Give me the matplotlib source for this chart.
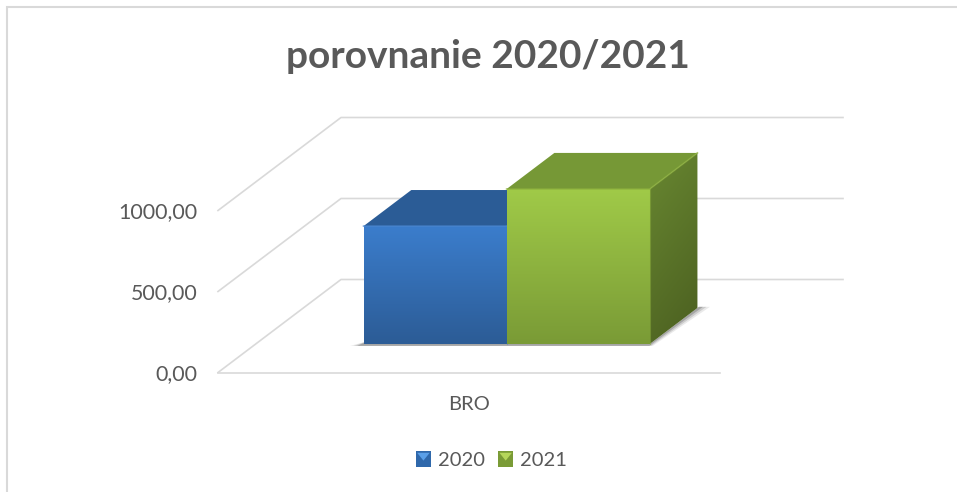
import numpy as np
from matplotlib import pyplot as plt
from matplotlib.colors import LinearSegmentedColormap
from matplotlib.legend_handler import HandlerPatch
from matplotlib.patches import Patch, Polygon, Rectangle

plt.rcParams['font.family'] = ['Lato', 'DejaVu Sans']

categories = ['BRO']
series_names = ['2020', '2021']
values = [728, 957]
y_ticks = [0, 500, 1000]
y_tick_labels = ['0,00', '500,00', '1000,00']

W, H = 957, 492
TEXT = '#595959'
GRID = '#d9d9d9'
# front, top, side colours (start, end of gradient), bevel highlight
styles = [
    {'front': ('#3b7dcc', '#2c5c96'), 'top': '#2b5c96', 'side': ('#24497a', '#1d3b63'), 'edge': '#4a86cf'},
    {'front': ('#a0ca48', '#7a9b36'), 'top': '#769836', 'side': ('#688731', '#4b5f20'), 'edge': '#8db03e'},
]

fig = plt.figure(figsize=(W / 100, H / 100), dpi=100)
ax = fig.add_axes([218 / W, 1 - 372.5 / H, 625 / W, 272.5 / H])
ax.set_xlim(0, 625 / 502)
ax.set_ylim(0, 272.5 / 81 * 500)
for s in ax.spines.values():
    s.set_visible(False)

# chart frame, open on the right and at the bottom of the picture
fig.add_artist(Rectangle((7 / W, -0.1), 1.1, 1 - 7 / H + 0.1, transform=fig.transFigure,
                         fill=False, ec=GRID, lw=1.5))

# oblique depth of the 3D box, in data units
DX = 123 / 502
DY = 93 / 81 * 500
F0, F1 = 0.306, 0.694
BAR_W = 0.285


def proj(x, v, f):
    return x + f * DX, v + f * DY


def gradient(verts, c0, c1, angle=90, zorder=3):
    # fill a polygon with a linear gradient, clipped to it
    verts = np.array(verts)
    cmap = LinearSegmentedColormap.from_list('g', [c1, c0])
    if angle == 90:
        img = np.linspace(0, 1, 64).reshape(-1, 1)
    else:
        yy, xx = np.mgrid[0:1:64j, 0:1:64j]
        img = (yy * 0.75 + (1 - xx) * 0.25)
    im = ax.imshow(img, origin='lower', aspect='auto', cmap=cmap, vmin=0, vmax=1,
                   extent=(verts[:, 0].min(), verts[:, 0].max(), verts[:, 1].min(), verts[:, 1].max()),
                   zorder=zorder, interpolation='bilinear')
    poly = Polygon(verts, closed=True, transform=ax.transData, fc='none', ec='none')
    ax.add_patch(poly)
    im.set_clip_path(poly)


xlim, ylim = ax.get_xlim(), ax.get_ylim()

# walls
for v in y_ticks:
    pts = [proj(0, v, 0), proj(0, v, 1), proj(1, v, 1)]
    ax.plot(*zip(*pts), color=GRID, lw=1.2, zorder=1, clip_on=False)
ax.plot(*zip(proj(0, 0, 0), proj(1, 0, 0)), color=GRID, lw=1.2, zorder=1, clip_on=False)

# soft shadow on the floor
x_left = 0.5 - BAR_W
x_right = 0.5 + BAR_W
for grow, alpha in [(0.022, 0.12), (0.015, 0.2), (0.008, 0.32)]:
    shadow = [proj(x_left - grow, 0, F0 - 0.02), proj(x_right + grow / 2, 0, F0 - 0.02),
              proj(x_right + grow, 0, F1 + 0.012), proj(x_right, 0, F1 + 0.012),
              proj(x_right, 0, F0), proj(x_left, 0, F0 + 0.03)]
    ax.add_patch(Polygon(shadow, closed=True, fc='#555555', ec='none', alpha=alpha, zorder=2))

# bars, left to right
for i, (val, st) in enumerate(zip(values, styles)):
    x0 = 0.5 - BAR_W + i * BAR_W
    x1 = x0 + BAR_W
    top = [proj(x0, val, F0), proj(x1, val, F0), proj(x1, val, F1), proj(x0, val, F1)]
    side = [proj(x1, 0, F0), proj(x1, val, F0), proj(x1, val, F1), proj(x1, 0, F1)]
    front = [proj(x0, 0, F0), proj(x1, 0, F0), proj(x1, val, F0), proj(x0, val, F0)]
    z = 3 + i
    gradient(side, st['side'][0], st['side'][1], angle=45, zorder=z)
    ax.add_patch(Polygon(top, closed=True, fc=st['top'], ec='none', zorder=z))
    gradient(front, st['front'][0], st['front'][1], zorder=z + 0.5)
    # bevel highlights along the top edges
    ax.plot(*zip(top[0], top[1], top[2]), color=st['edge'], lw=1.2, alpha=0.7, zorder=z + 0.6)
    ax.plot(*zip(side[0], side[1]), color=st['edge'], lw=0.8, alpha=0.5, zorder=z + 0.6)

ax.set_xlim(xlim)
ax.set_ylim(ylim)

ax.set_yticks(y_ticks, y_tick_labels, fontsize=15.4, color=TEXT)
ax.set_xticks([0.5], categories, fontsize=14.5, color=TEXT)
ax.tick_params(axis='y', length=0, pad=15)
ax.tick_params(axis='x', length=0, pad=17)

fig.text(488 / W, 1 - 57 / H, 'porovnanie 2020/2021', fontsize=28, fontweight='bold',
         color=TEXT, ha='center', va='center')


class BevelHandler(HandlerPatch):
    # legend swatch: dark square with a light wedge from the top edge
    def create_artists(self, legend, orig, xd, yd, w, h, fontsize, trans):
        side = min(w, h) * 0.85
        x = -xd + (w - side) / 2
        y = -yd + (h - side) / 2
        base = Rectangle((x, y), side, side, fc=orig.get_edgecolor(), ec='none', transform=trans)
        wedge = Polygon([(x + 1, y + side - 1), (x + side - 1, y + side - 1), (x + side / 2, y + side * 0.4)],
                        closed=True, fc=orig.get_facecolor(), ec='none', transform=trans)
        return [base, wedge]


handles = [Patch(fc=c, ec=e, label=n) for c, e, n in
           zip(['#5a9fe8', '#b5d65a'], ['#2f68ab', '#7a9b36'], series_names)]
fig.legend(handles=handles, loc='center', bbox_to_anchor=(490 / W, 1 - 459.5 / H), ncol=2,
           frameon=False, fontsize=14.5, labelcolor=TEXT, handlelength=1, handleheight=1,
           handletextpad=0.2, columnspacing=0.55, handler_map={Patch: BevelHandler()})

fig.savefig('out.png', dpi=100)
